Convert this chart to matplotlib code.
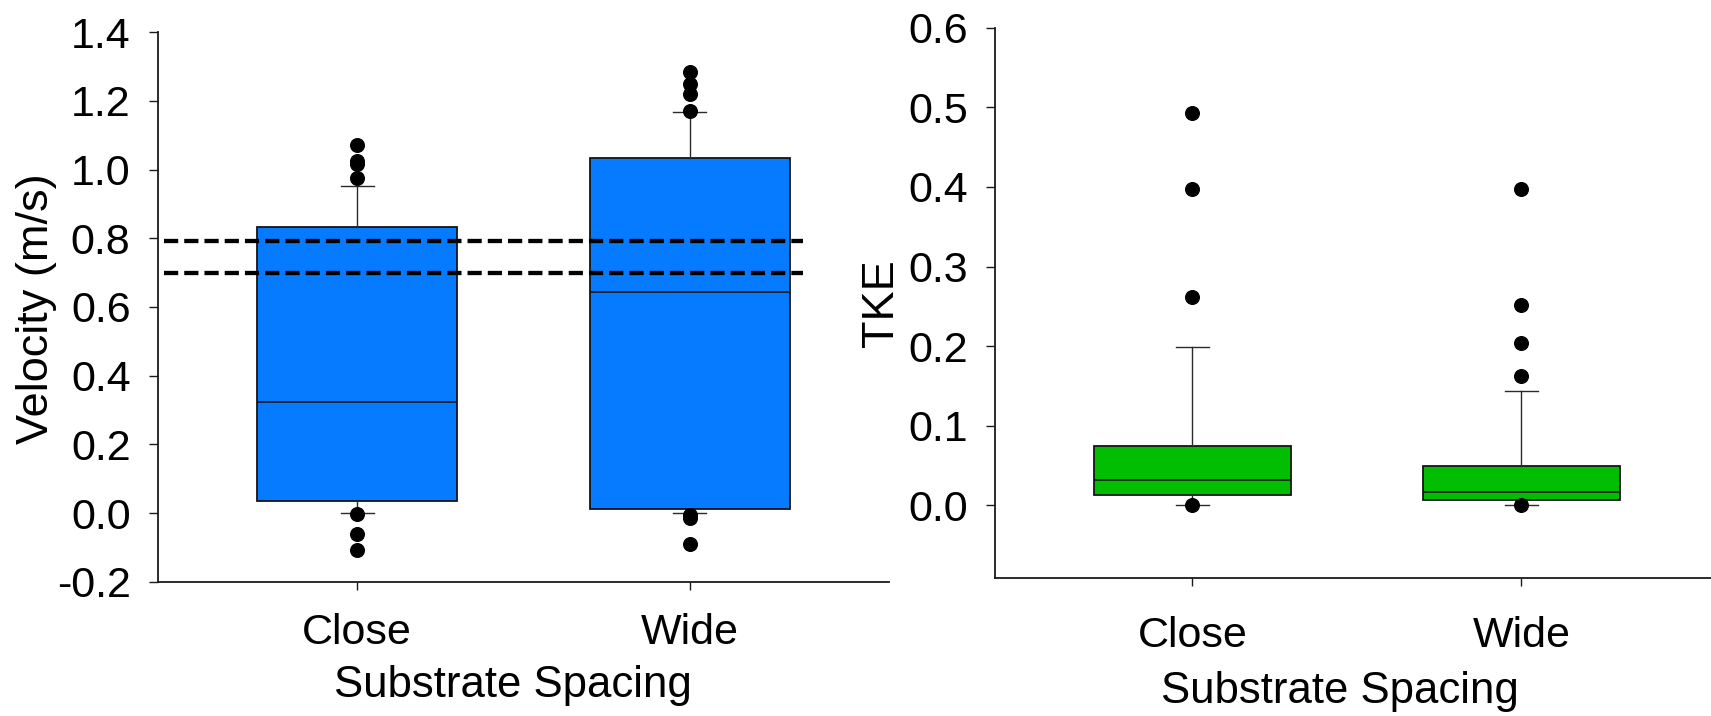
import matplotlib
matplotlib.use("Agg")
import matplotlib.pyplot as plt

plt.rcParams['font.family'] = ['Liberation Sans', 'DejaVu Sans']
plt.rcParams['axes.unicode_minus'] = False

categories = ["Close", "Wide"]

# Velocity (m/s) box-plot statistics per substrate spacing
vel_q1 = [0.034, 0.012]
vel_med = [0.323, 0.643]
vel_q3 = [0.832, 1.033]
vel_whislo = [0.0, 0.0]
vel_whishi = [0.953, 1.168]
vel_fliers = [[0.975, 1.017, 1.026, 1.072, -0.003, -0.061, -0.107],
              [1.172, 1.221, 1.250, 1.284, -0.005, -0.015, -0.091]]
vel_refs = [0.793, 0.698]
vel_ticks = [-0.2, 0.0, 0.2, 0.4, 0.6, 0.8, 1.0, 1.2, 1.4]

# Turbulent kinetic energy box-plot statistics
tke_q1 = [0.0125, 0.0069]
tke_med = [0.032, 0.0166]
tke_q3 = [0.0742, 0.0496]
tke_whislo = [0.0, 0.0003]
tke_whishi = [0.1995, 0.1433]
tke_fliers = [[0.0, 0.262, 0.397, 0.493],
              [0.0, 0.162, 0.204, 0.252, 0.398]]
tke_ticks = [0.0, 0.1, 0.2, 0.3, 0.4, 0.5, 0.6]

FS_TICK = 31
FS_XLAB = 31.5
FS_YLAB = 32.5
W, H = 1711, 716
fig = plt.figure(figsize=(W / 100, H / 100), dpi=100)


def px_axes(x0, x1, ytop, ybot):
    return fig.add_axes([x0 / W, 1 - ybot / H, (x1 - x0) / W, (ybot - ytop) / H])


def make_stats(q1, med, q3, lo, hi, fl):
    return [dict(q1=q1[i], med=med[i], q3=q3[i], whislo=lo[i], whishi=hi[i],
                 fliers=fl[i], label=categories[i]) for i in range(len(categories))]


def draw_box(ax, stats, color):
    ax.bxp(stats, positions=[1, 2], widths=0.6, capwidths=0.1, patch_artist=True,
           boxprops=dict(facecolor=color, edgecolor='#151515', linewidth=1.3),
           medianprops=dict(color='#151515', linewidth=1.2),
           whiskerprops=dict(color='#2a2a2a', linewidth=1.0),
           capprops=dict(color='#2a2a2a', linewidth=1.0),
           flierprops=dict(marker='o', markerfacecolor='black',
                           markeredgecolor='black', markersize=9.8))


def style(ax, xpad):
    for s in ('top', 'right'):
        ax.spines[s].set_visible(False)
    for s in ('left', 'bottom'):
        ax.spines[s].set_linewidth(1.3)
        ax.spines[s].set_color('#1a1a1a')
    ax.tick_params(axis='y', direction='out', length=6.5, width=1.0, pad=13,
                   labelsize=FS_TICK, color='#1a1a1a')
    ax.tick_params(axis='x', direction='out', length=5.8, width=1.0, pad=xpad,
                   labelsize=FS_TICK, color='#1a1a1a')
    ax.set_xlim(0.4, 2.6)
    ax.set_xticks([1, 2])
    ax.set_xticklabels(categories)


# Left panel: velocity
ax1 = px_axes(157.7, 889.3, 32.3, 581.7)
draw_box(ax1, make_stats(vel_q1, vel_med, vel_q3, vel_whislo, vel_whishi, vel_fliers),
         '#077BFF')
ax1.hlines(vel_refs, 0.42, 2.34, colors='black', linewidth=3.1,
           linestyles=[(0, (3.3, 1.4))], zorder=4)
style(ax1, 17)
ax1.set_ylim(-0.2, 1.4)
ax1.set_yticks(vel_ticks)
ax1.set_yticklabels([f"{v:.1f}" for v in vel_ticks])
ax1.set_ylabel("Velocity (m/s)", fontsize=FS_YLAB)
ax1.yaxis.set_label_coords(-0.138, 0.497)
ax1.set_xlabel("Substrate Spacing", fontsize=FS_XLAB, va='top')
ax1.xaxis.set_label_coords(0.486, -0.152)

# Right panel: TKE
ax2 = px_axes(995, 1718.8, 27.7, 578.3)
draw_box(ax2, make_stats(tke_q1, tke_med, tke_q3, tke_whislo, tke_whishi, tke_fliers),
         '#02BE02')
style(ax2, 21)
ax2.set_ylim(-0.0915, 0.6)
ax2.set_yticks(tke_ticks)
ax2.set_yticklabels([f"{v:.1f}" for v in tke_ticks])
ax2.set_ylabel("TKE", fontsize=FS_YLAB)
ax2.yaxis.set_label_coords(-0.129, 0.5)
ax2.set_xlabel("Substrate Spacing", fontsize=FS_XLAB, va='top')
ax2.xaxis.set_label_coords(0.477, -0.168)

fig.savefig("out.png", dpi=100)
